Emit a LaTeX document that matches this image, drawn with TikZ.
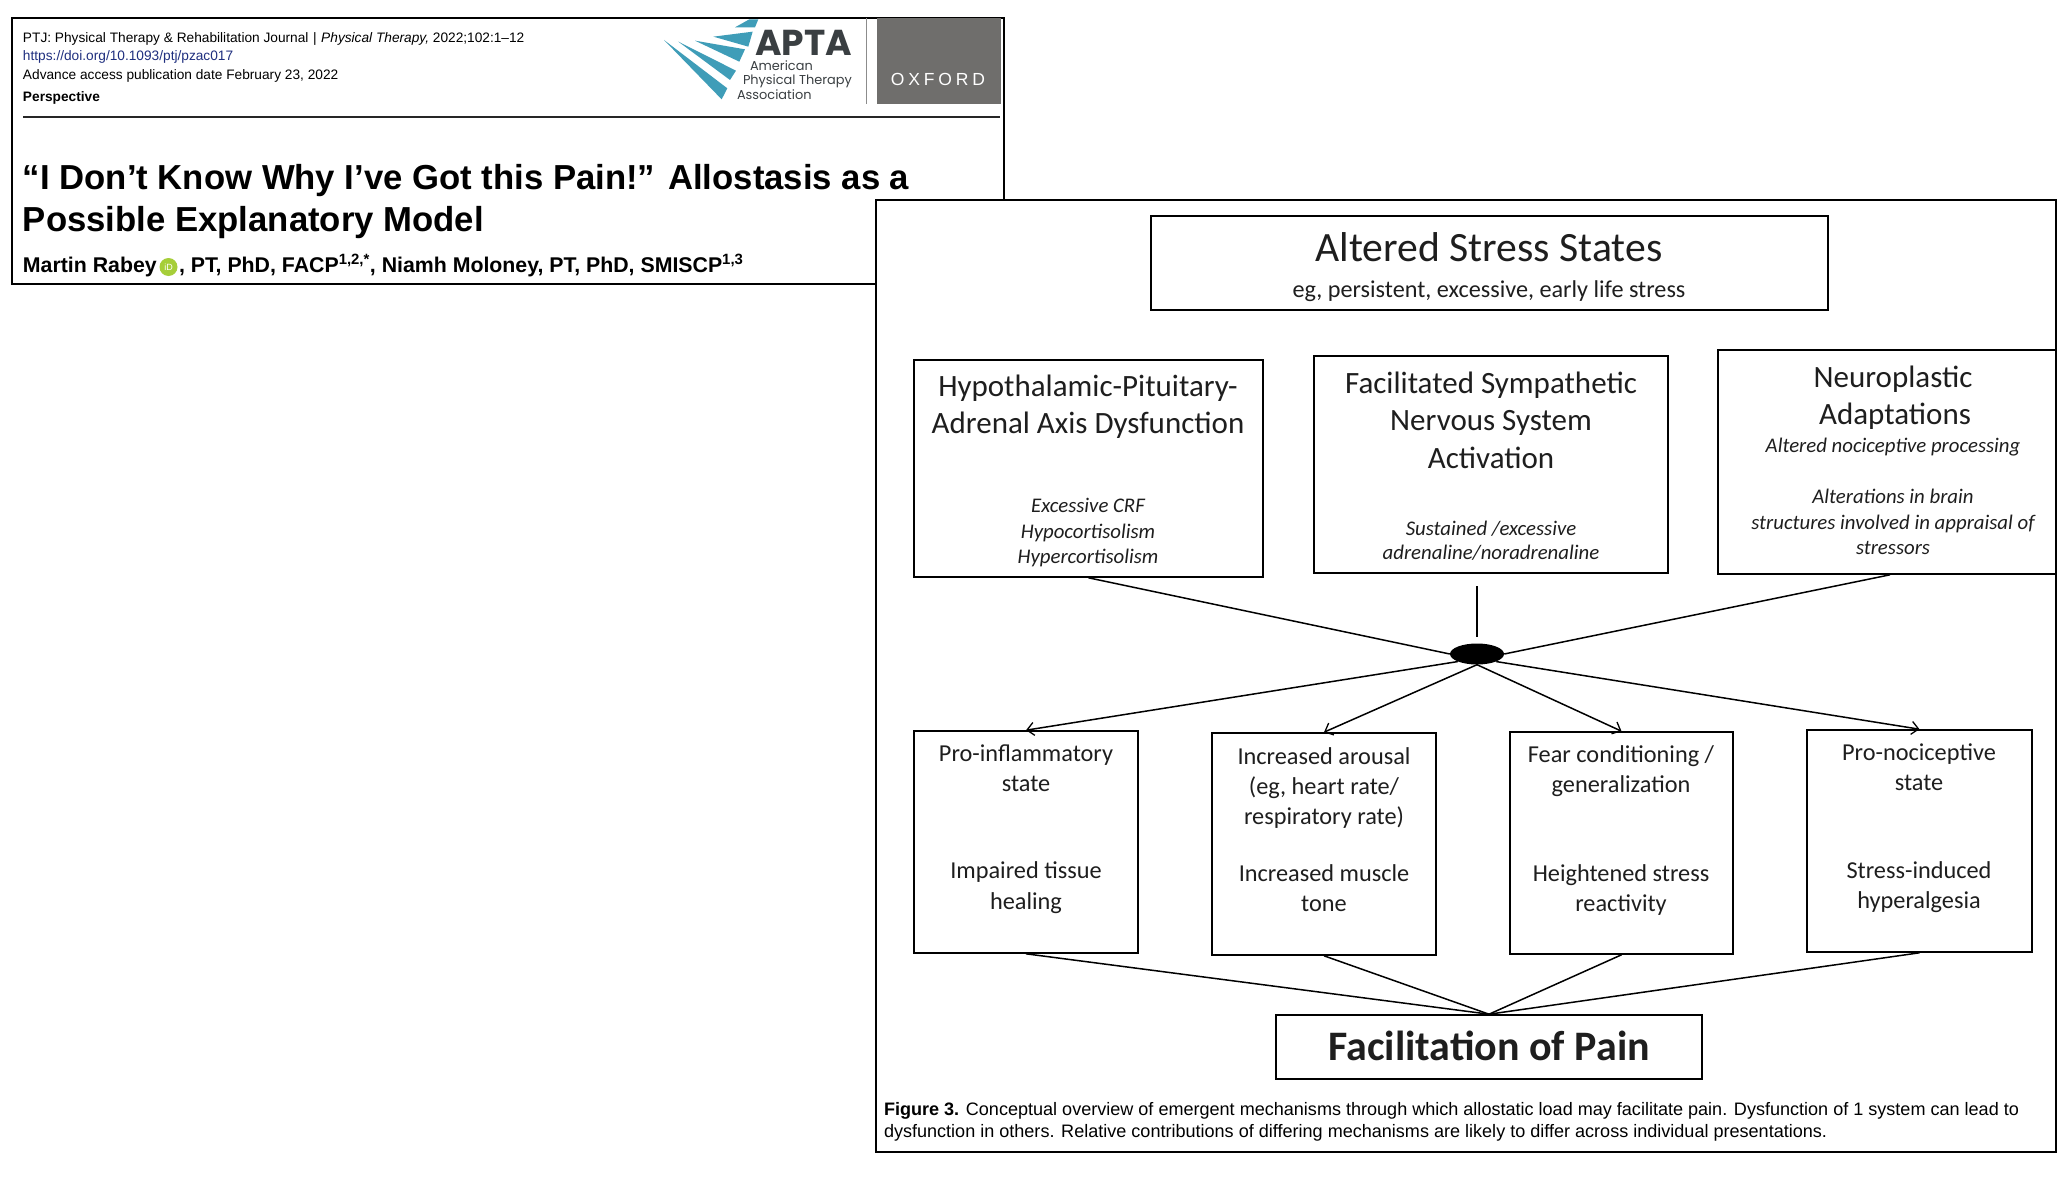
\documentclass[tikz,border=0pt]{standalone}
\usepackage{fontspec}
\setmainfont{Liberation Sans}
\newfontfamily\carl{Carlito}
\newfontfamily\pop{Poppins}
\newfontfamily\oxf[LetterSpace=22]{Liberation Sans}
\usetikzlibrary{arrows.meta,shapes.geometric}
\definecolor{ink}{HTML}{1E1E1E}
\definecolor{teal}{HTML}{3F9DB8}
\definecolor{slate}{HTML}{3A3F42}
\definecolor{oxgrey}{HTML}{6F6E6C}
\definecolor{doiblue}{HTML}{1F2F7F}
\definecolor{orcid}{HTML}{A6CE39}
\newcommand{\fs}[1]{\fontsize{#1}{#1}\selectfont}
\newcommand{\tline}[5]{\node[txt,#4] (#1) at (#2,#3) {#5};}
\tikzset{
 txt/.style={inner sep=0pt,outer sep=0pt,anchor=mid,text=ink},
 lft/.style={anchor=mid west},
 headtxt/.style={lft,text=black,font=\fs{13.7},yshift=-3pt},
 ttl/.style={lft,text=black,font=\fs{34.7}\bfseries,yshift=-10pt},
 auth/.style={lft,text=black,font=\fs{21.3}\bfseries,yshift=-4.5pt},
 captxt/.style={lft,text=black,font=\fs{18.05},yshift=-4pt},
 bigtxt/.style={font=\carl\fs{41.7},yshift=-11pt},
 subtxt/.style={font=\carl\fs{24.2},yshift=-6pt},
 maintxt/.style={font=\carl\fs{31},yshift=-8pt},
 ital/.style={font=\carl\itshape\fs{20.8},yshift=-5pt},
 mech/.style={font=\carl\fs{24.3},yshift=-6.5pt},
 paintxt/.style={font=\carl\bfseries\fs{42},yshift=-11pt},
 logotxt/.style={font=\pop\fs{12.9},text=slate,yshift=-2pt},
 panel/.style={draw=black,line width=2pt,fill=white},
 boxr/.style={draw=black,line width=1.6pt},
 link/.style={draw=black,line width=1.5pt},
 arrowlink/.style={link,-{Straight Barb[length=7pt,width=13pt,line width=1.3pt]}},
 logobar/.style={fill=teal,draw=none},
}
\begin{document}
\begin{tikzpicture}[x=1pt,y=-1pt]
\useasboundingbox (0,0) rectangle (2072,1180);
% back card
\path[panel] (12,18) rectangle (1004,284);
\tline{h1}{23}{37}{headtxt}{PTJ: Physical Therapy \& Rehabilitation Journal\,\,|\,\,\textit{Physical Therapy,} 2022;102:1–12}
\tline{h2}{23}{55}{headtxt,text=doiblue}{https://doi.org/10.1093/ptj/pzac017}
\tline{h3}{23}{74}{headtxt}{Advance access publication date February 23, 2022}
\tline{h4}{23}{96}{headtxt,font=\fs{13.7}\bfseries}{Perspective}
\coordinate (ruleL) at (23,117);
\coordinate (ruleR) at (1000,117);
\draw[line width=2pt,draw=black!85] (ruleL) -- (ruleR);
\tline{t1}{23}{177}{ttl}{“I Don’t Know Why I’ve Got this Pain!” Allostasis as a}
\tline{t2}{23}{219}{ttl}{Possible Explanatory Model}
\tline{a1}{23}{265}{auth}{Martin Rabey}
\node[circle,fill=orcid,minimum size=18pt,inner sep=0pt,text=white,font=\fs{9}] (orc) at (168.5,267) {iD};
\tline{a2}{179}{265}{auth}{, PT, PhD, FACP\textsuperscript{1,2,*}, Niamh Moloney, PT, PhD, SMISCP\textsuperscript{1,3}}
% logo
\begin{scope}[shift={(650pt,-10pt)},x=0.3333pt,y=-0.3333pt]
\fill[logobar] (255,52) -- (298,28) -- (325,28) -- (315,52) -- cycle;
\fill[logobar] (190,80) -- (308,65) -- (295,110) -- cycle;
\fill[logobar] (135,92) -- (285,118) -- (268,155) -- cycle;
\fill[logobar] (85,95) -- (258,182) -- (240,210) -- cycle;
\fill[logobar] (42,90) -- (232,235) -- (215,268) -- cycle;
\end{scope}
\tline{apta}{755}{43}{lft,font=\pop\bfseries\fs{36},text=slate,yshift=-10pt}{APTA}
\tline{l1}{750}{66}{lft,logotxt}{American}
\tline{l2}{743}{80}{lft,logotxt}{Physical Therapy}
\tline{l3}{737}{95}{lft,logotxt}{Association}
\draw[line width=1pt,draw=black!45] (866,18) -- (866,104);
\node[draw=none,fill=oxgrey,minimum width=124pt,minimum height=86pt,inner sep=0pt] (oxbox) at (939,61) {};
\tline{ox}{938}{79}{text=white,font=\oxf\fs{17.5},yshift=-4pt}{OXFORD}
% front panel
\path[panel] (876,200) rectangle (2056,1152);
\newcommand{\bx}[5]{\node[boxr,inner sep=0pt,minimum width=#3pt-#2pt,minimum height=#5pt-#4pt] (#1) at ({(#2+#3)/2},{(#4+#5)/2}) {};}
\bx{top}{1151}{1828}{216}{310}
\tline{top1}{1489}{248}{bigtxt}{Altered Stress States}
\tline{top2}{1489}{289}{subtxt}{eg, persistent, excessive, early life stress}
\bx{hpa}{914}{1263}{360}{577}
\tline{hpa1}{1088}{386}{maintxt}{Hypothalamic-Pituitary-}
\tline{hpa2}{1088}{423}{maintxt}{Adrenal Axis Dysfunction}
\tline{hpa3}{1088}{505}{ital}{Excessive CRF}
\tline{hpa4}{1088}{531}{ital}{Hypocortisolism}
\tline{hpa5}{1088}{556}{ital}{Hypercortisolism}
\bx{fsn}{1314}{1668}{356}{573}
\tline{fsn1}{1491}{383}{maintxt}{Facilitated Sympathetic}
\tline{fsn2}{1491}{420}{maintxt}{Nervous System}
\tline{fsn3}{1491}{458}{maintxt}{Activation}
\tline{fsn4}{1491}{528}{ital}{Sustained /excessive}
\tline{fsn5}{1491}{552}{ital}{adrenaline/noradrenaline}
\bx{neu}{1718}{2056}{350}{574}
\tline{neu1}{1893}{377}{maintxt}{Neuroplastic}
\tline{neu2}{1895}{414}{maintxt}{Adaptations}
\tline{neu3}{1893}{445}{ital}{Altered nociceptive processing}
\tline{neu4}{1893}{496}{ital}{Alterations in brain}
\tline{neu5}{1893}{522}{ital}{structures involved in appraisal of}
\tline{neu6}{1893}{547}{ital}{stressors}
\node[ellipse,fill=black,inner sep=0pt,minimum width=54pt,minimum height=21pt] (hub) at (1477,654) {};
\coordinate (stem) at (1477,586);
\draw[link] (stem) -- ([yshift=6pt]hub.north);
\draw[link] (hpa.south) -- (hub.west);
\draw[link] ([xshift=3pt]neu.south) -- (hub.east);
\bx{pin}{914}{1138}{731}{953}
\tline{pin1}{1026}{752}{mech}{Pro-inflammatory}
\tline{pin2}{1026}{782}{mech}{state}
\tline{pin3}{1026}{869}{mech}{Impaired tissue}
\tline{pin4}{1026}{900}{mech}{healing}
\bx{aro}{1212}{1436}{733}{955}
\tline{aro1}{1324}{755}{mech}{Increased arousal}
\tline{aro2}{1324}{785}{mech}{(eg, heart rate/}
\tline{aro3}{1324}{815}{mech}{respiratory rate)}
\tline{aro4}{1324}{872}{mech}{Increased muscle}
\tline{aro5}{1324}{902}{mech}{tone}
\bx{fea}{1510}{1733}{732}{954}
\tline{fea1}{1621}{753}{mech}{Fear conditioning /}
\tline{fea2}{1621}{783}{mech}{generalization}
\tline{fea3}{1621}{872}{mech}{Heightened stress}
\tline{fea4}{1621}{902}{mech}{reactivity}
\bx{pno}{1807}{2032}{730}{952}
\tline{pno1}{1919}{751}{mech}{Pro-nociceptive}
\tline{pno2}{1919}{781}{mech}{state}
\tline{pno3}{1919}{869}{mech}{Stress-induced}
\tline{pno4}{1919}{899}{mech}{hyperalgesia}
\draw[arrowlink] (hub.south west) -- (pin.north);
\draw[arrowlink] (hub.south) -- (aro.north);
\draw[arrowlink] (hub.south) -- (fea.north);
\draw[arrowlink] (hub.south east) -- (pno.north);
\bx{fac}{1276}{1702}{1015}{1079}
\tline{fac1}{1489}{1047}{paintxt}{Facilitation of Pain}
\draw[link] (pin.south) -- (fac.north);
\draw[link] (aro.south) -- (fac.north);
\draw[link] (fea.south) -- (fac.north);
\draw[link] (pno.south) -- (fac.north);
\tline{cap1}{884}{1109}{captxt}{\textbf{Figure 3.} Conceptual overview of emergent mechanisms through which allostatic load may facilitate pain. Dysfunction of 1 system can lead to}
\tline{cap2}{884}{1131}{captxt}{dysfunction in others. Relative contributions of differing mechanisms are likely to differ across individual presentations.}
\end{tikzpicture}
\end{document}
